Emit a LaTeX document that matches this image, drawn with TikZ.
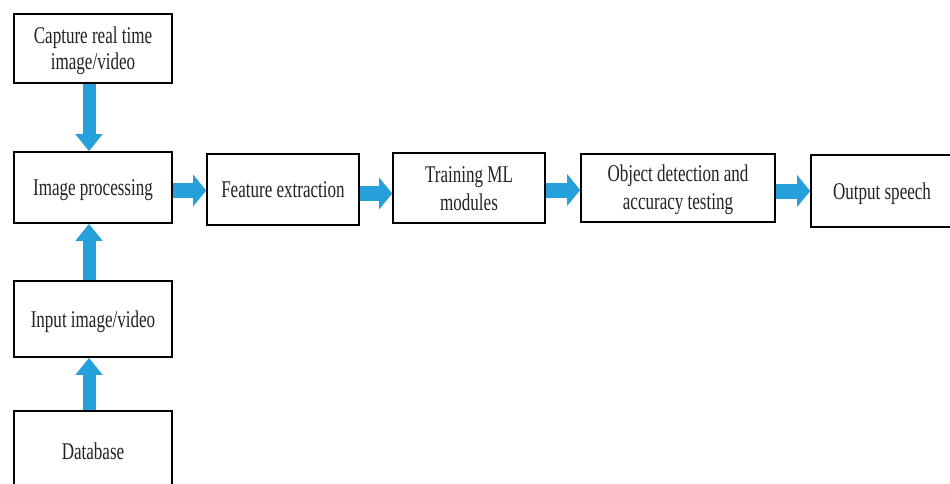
\documentclass[tikz,border=0pt]{standalone}
\usepackage{fontspec}
\setmainfont{Liberation Serif}[FakeStretch=0.71]
\usetikzlibrary{arrows.meta}
\definecolor{arrowblue}{RGB}{38,160,218}
\definecolor{txt}{RGB}{35,35,35}
\newcommand\boxtext[2]{\raisebox{#1}[\height][\depth]{\begin{tabular}{@{}c@{}}#2\end{tabular}}}
\begin{document}
\begin{tikzpicture}[x=1pt,y=-1pt,
  box/.style={draw=black,line width=1.6pt,fill=white,rectangle,inner sep=0pt,
    text=txt,font=\fontsize{24}{28}\selectfont},
  harrow/.style={draw=arrowblue,line width=15pt,-{Triangle[width=31pt,length=13pt]}},
  varrow/.style={draw=arrowblue,line width=13pt,-{Triangle[width=26pt,length=17pt]}}]
\clip (0,0) rectangle (950,483);
\fill[white] (0,0) rectangle (950,483);
% boxes
\node[box,minimum width=158pt,minimum height=69pt,font=\fontsize{24}{26}\selectfont] (cap) at (93,48.5) {\boxtext{-2.5pt}{Capture real time\\image/video}};
\node[box,minimum width=158pt,minimum height=71pt] (imp) at (93,187.5) {\boxtext{-2.8pt}{Image processing}};
\node[box,minimum width=158pt,minimum height=76pt] (inp) at (93,319) {\boxtext{-2.5pt}{Input image/video}};
\node[box,minimum width=158pt,minimum height=78pt] (db) at (93,450) {\boxtext{-3.5pt}{Database}};
\node[box,minimum width=152pt,minimum height=71pt] (fe) at (283,189.5) {\boxtext{-2pt}{Feature extraction}};
\node[box,minimum width=152pt,minimum height=70pt] (tr) at (469,188) {\boxtext{-3pt}{Training ML\\modules}};
\node[box,minimum width=194pt,minimum height=68pt] (od) at (678,188) {\boxtext{-1.5pt}{Object detection and\\accuracy testing}};
\node[box,minimum width=142pt,minimum height=72pt] (os) at (882,191) {\boxtext{-2.5pt}{Output speech}};
% vertical arrows
\draw[varrow] ([xshift=-4pt]cap.south) -- ([xshift=-4pt]imp.north);
\draw[varrow] ([xshift=-4pt]inp.north) -- ([xshift=-4pt]imp.south);
\draw[varrow] ([xshift=-4pt]db.north) -- ([xshift=-4pt]inp.south);
% horizontal arrows
\draw[harrow] ([yshift=-3pt]imp.east) -- ([yshift=-3pt]imp.east -| fe.west);
\draw[harrow] ([yshift=-4pt]fe.east) -- ([yshift=-4pt]fe.east -| tr.west);
\draw[harrow] ([yshift=-2pt]tr.east) -- ([yshift=-2pt]tr.east -| od.west);
\draw[harrow] ([yshift=-3pt]od.east) -- ([yshift=-3pt]od.east -| os.west);
\end{tikzpicture}
\end{document}
